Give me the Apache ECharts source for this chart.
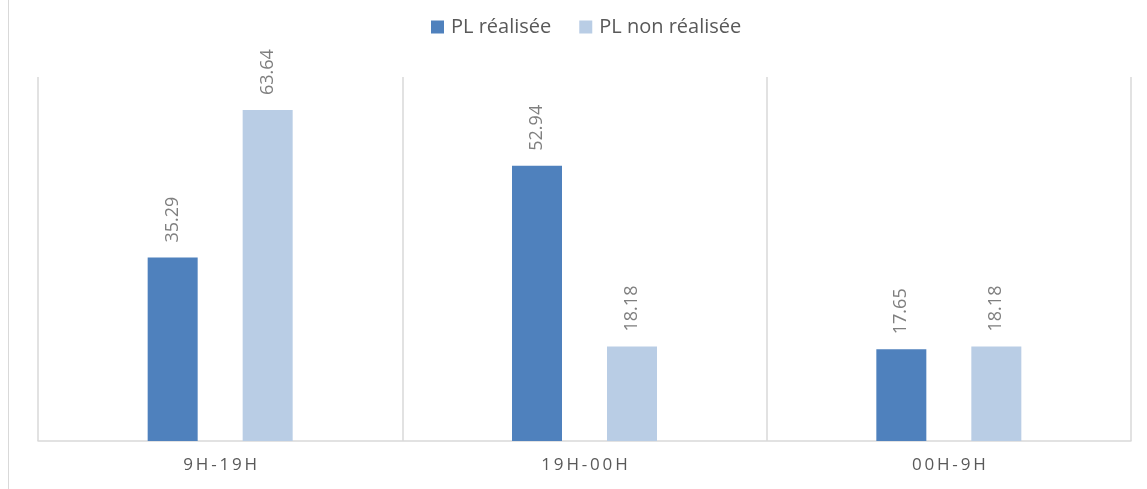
<!DOCTYPE html>
<html>
<head>
<meta charset="utf-8">
<script src="https://cdn.jsdelivr.net/npm/echarts@6/dist/echarts.min.js"></script>
<style>
  html, body { margin: 0; padding: 0; background: #fff; }
  #frame { position: absolute; left: 8px; top: 0; width: 1139px; height: 489px; border-left: 1px solid #d9d9d9; }
  #chart { position: absolute; left: 0; top: 0; width: 1147px; height: 489px; }
</style>
</head>
<body>
<div id="frame"></div>
<div id="chart"></div>
<script>
const categories = ['9H-19H', '19H-00H', '00H-9H']
const realisee = [35.29, 52.94, 17.65]
const nonRealisee = [63.64, 18.18, 18.18]
const seriesNames = ['PL réalisée', 'PL non réalisée']

const FONT = '"Open Sans", "Noto Sans", sans-serif'
const GRID_COLOR = '#d9d9d9'

const chart = echarts.init(document.getElementById('chart'), null, { renderer: 'canvas' })

// Excel-style spaced axis labels
function spaced(s) {
  return s.split('').join('\u2009')
}

const labelStyle = {
  show: true,
  position: 'top',
  rotate: 90,
  align: 'left',
  verticalAlign: 'middle',
  distance: 15,
  color: '#7f7f7f',
  fontSize: 18,
  fontFamily: FONT,
  formatter: p => p.value.toFixed(2)
}

chart.setOption({
  backgroundColor: 'transparent',
  animation: false,
  legend: {
    data: seriesNames,
    top: 17,
    left: 431,
    padding: 0,
    icon: 'rect',
    itemWidth: 13,
    itemHeight: 13,
    itemGap: 28,
    textStyle: { color: '#595959', fontSize: 20, fontFamily: FONT, padding: [0, 0, 0, 2] }
  },
  grid: { left: 38, right: 16, top: 77, bottom: 48 },
  xAxis: {
    type: 'category',
    data: categories,
    axisLine: { lineStyle: { color: GRID_COLOR, width: 1.5 } },
    axisTick: { show: false },
    axisLabel: {
      color: '#595959',
      fontSize: 17,
      fontFamily: FONT,
      margin: 16,
      formatter: v => spaced(v)
    },
    splitLine: { show: true, lineStyle: { color: GRID_COLOR, width: 1.5 } }
  },
  yAxis: {
    type: 'value',
    min: 0,
    max: 70,
    show: false,
    splitLine: { show: false }
  },
  series: [
    {
      name: seriesNames[0],
      type: 'bar',
      data: realisee,
      barWidth: 50,
      barGap: '90%',
      itemStyle: { color: '#4f81bd' },
      label: labelStyle
    },
    {
      name: seriesNames[1],
      type: 'bar',
      data: nonRealisee,
      barWidth: 50,
      barGap: '90%',
      itemStyle: { color: '#b9cde5' },
      label: labelStyle
    }
  ]
})
</script>
</body>
</html>
